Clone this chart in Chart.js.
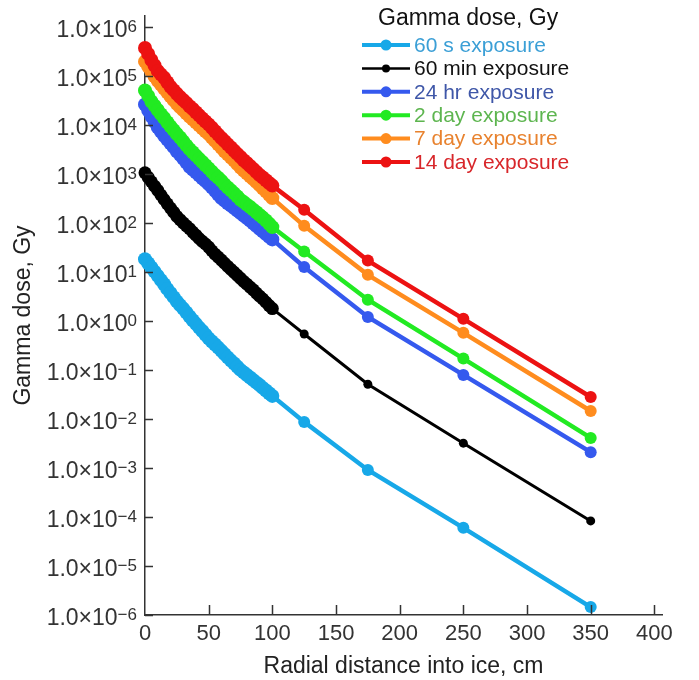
<!DOCTYPE html>
<html lang="en">
<head>
  <meta charset="utf-8" />
  <title>Gamma dose vs radial distance</title>
  <script src="https://cdn.jsdelivr.net/npm/chart.js@4.4.1/dist/chart.umd.min.js"></script>
  <style>
    html, body { margin: 0; padding: 0; background: #fff; }
    #wrap { width: 699px; height: 680px; }
  </style>
</head>
<body>
<div id="wrap">
  <canvas id="myChart" width="699" height="680"></canvas>
</div>

<script>
// Radial distance into ice (cm), shared by every series
const distances = [0, 2.5, 5, 7.5, 10, 12.5, 15, 17.5, 20, 22.5, 25, 27.5, 30, 32.5, 35, 37.5, 40, 42.5, 45, 47.5,
  50, 52.5, 55, 57.5, 60, 62.5, 65, 67.5, 70, 72.5, 75, 77.5, 80, 82.5, 85, 87.5, 90, 92.5, 95, 97.5, 100,
  125, 175, 250, 350];
const DENSE_COUNT = 41; // points from 0 to 100 cm

// Gamma dose (Gy)
const dose60s = [18.2, 15, 12.3, 10.1, 8.3, 6.8, 5.6, 4.5, 3.7, 3.05, 2.5, 2.1, 1.78, 1.48, 1.23, 1.03, 0.87, 0.73, 0.62, 0.52,
  0.44, 0.38, 0.33, 0.285, 0.245, 0.21, 0.18, 0.155, 0.135, 0.116, 0.10, 0.089, 0.079, 0.070, 0.062, 0.055, 0.049, 0.043, 0.038, 0.0335, 0.0295,
  0.0087, 9.1e-4, 6.0e-5, 1.45e-6];
const dose60min = [1050, 850, 690, 560, 460, 370, 300, 245, 200, 165, 135, 116, 100, 87, 76, 65, 56, 48, 42, 37,
  32, 27, 23, 20, 17.4, 15, 12.9, 11.2, 9.8, 8.5, 7.4, 6.4, 5.6, 4.9, 4.3, 3.7, 3.2, 2.8, 2.4, 2.05, 1.78,
  0.54, 0.051, 0.0032, 8.3e-5];
const dose24hr = [26000, 19800, 15000, 11500, 8900, 7300, 6000, 5000, 4200, 3500, 2900, 2450, 2050, 1700, 1400, 1220, 1070, 930, 810, 710,
  620, 530, 450, 380, 320, 285, 250, 225, 200, 178, 158, 141, 126, 111, 98, 86, 76, 67, 59, 52, 46,
  12.6, 1.2, 0.079, 0.0021];
const dose2day = [50000, 39000, 30000, 24500, 20000, 16500, 13800, 11300, 9300, 7800, 6500, 5500, 4600, 3800, 3200, 2750, 2350, 2020, 1740, 1500,
  1290, 1100, 950, 830, 720, 610, 525, 460, 400, 345, 295, 265, 235, 210, 186, 165, 145, 128, 112, 96, 82,
  26, 2.7, 0.17, 0.0041];
const dose7day = [195000, 155000, 123000, 98000, 79000, 66000, 55000, 46000, 38000, 32000, 27000, 23000, 20000, 17200, 14800, 12900, 11200, 9800, 8500, 7400,
  6500, 5500, 4700, 4000, 3400, 2900, 2500, 2150, 1860, 1580, 1350, 1170, 1020, 890, 780, 680, 590, 510, 440, 375, 320,
  87, 8.7, 0.57, 0.0145];
const dose14day = [370000, 280000, 210000, 162000, 126000, 107000, 91000, 74000, 60000, 51000, 43000, 37000, 32000, 28000, 24000, 21000, 18000, 15600, 13500, 11700,
  10200, 8700, 7400, 6300, 5400, 4650, 4000, 3450, 2950, 2550, 2200, 1900, 1660, 1450, 1260, 1090, 950, 840, 740, 650, 575,
  185, 17, 1.1, 0.028];

const seriesLabels = ['60 s exposure', '60 min exposure', '24 hr exposure', '2 day exposure', '7 day exposure', '14 day exposure'];
const seriesData = [dose60s, dose60min, dose24hr, dose2day, dose7day, dose14day];
const lineColors = ['#17a8e8', '#000000', '#3559ee', '#22ea22', '#ff8c1e', '#ec1212'];
const textColors = ['#3b9fd6', '#111111', '#3f57a8', '#5db54f', '#e8822e', '#d8262a'];

// Axis ticks
const xTicks = [0, 50, 100, 150, 200, 250, 300, 350, 400];
const yTickExps = [6, 5, 4, 3, 2, 1, 0, -1, -2, -3, -4, -5, -6];

const FONT = '"Liberation Sans", Arial, Helvetica, sans-serif';
const AXIS_COLOR = '#333333';

// tick marks pointing inward, superscript y labels, legend box
const extrasPlugin = {
  id: 'extras',
  afterDraw(chart) {
    const ctx = chart.ctx;
    const xs = chart.scales.x;
    const ys = chart.scales.y;
    const area = chart.chartArea;
    ctx.save();

    // inward tick marks
    ctx.strokeStyle = AXIS_COLOR;
    ctx.lineWidth = 1.5;
    ctx.beginPath();
    xTicks.forEach(v => {
      if (v === 0) return;
      const px = Math.round(xs.getPixelForValue(v)) + 0.5;
      ctx.moveTo(px, area.bottom);
      ctx.lineTo(px, area.bottom - 10);
    });
    yTickExps.forEach(e => {
      const py = Math.round(ys.getPixelForValue(Math.pow(10, e))) + 0.5;
      ctx.moveTo(area.left, py);
      ctx.lineTo(area.left + 8, py);
    });
    ctx.stroke();

    // y tick labels: 1.0x10^n
    ctx.fillStyle = AXIS_COLOR;
    ctx.textBaseline = 'alphabetic';
    const rightEdge = area.left - 8;
    yTickExps.forEach(e => {
      const py = ys.getPixelForValue(Math.pow(10, e));
      const expText = e < 0 ? '\u2212' + (-e) : String(e);
      ctx.font = '17px ' + FONT;
      const expW = ctx.measureText(expText).width;
      ctx.textAlign = 'left';
      ctx.fillText(expText, rightEdge - expW, py + 5);
      ctx.font = '23px ' + FONT;
      ctx.textAlign = 'right';
      ctx.fillText('1.0\u00d710', rightEdge - expW, py + 10);
    });

    // legend
    ctx.textAlign = 'left';
    ctx.fillStyle = '#111111';
    ctx.font = '23px ' + FONT;
    ctx.fillText('Gamma dose, Gy', 378, 25);

    ctx.font = '21px ' + FONT;
    ctx.textBaseline = 'middle';
    seriesLabels.forEach((label, i) => {
      const y = 45 + i * 23.4;
      const black = i === 1;
      ctx.strokeStyle = lineColors[i];
      ctx.lineWidth = black ? 2.5 : 4;
      ctx.beginPath();
      ctx.moveTo(362, y);
      ctx.lineTo(410, y);
      ctx.stroke();
      ctx.fillStyle = lineColors[i];
      ctx.beginPath();
      ctx.arc(386, y, black ? 4 : 5.5, 0, Math.PI * 2);
      ctx.fill();
      ctx.fillStyle = textColors[i];
      ctx.fillText(label, 414, y + 1);
    });

    ctx.restore();
  }
};

window.addEventListener('load', () => {
  const ctx = document.getElementById('myChart').getContext('2d');

  const datasets = seriesLabels.map((label, i) => {
    const black = i === 1;
    return {
      label: label,
      data: distances.map((d, j) => ({ x: d, y: seriesData[i][j] })),
      borderColor: lineColors[i],
      backgroundColor: lineColors[i],
      pointBackgroundColor: lineColors[i],
      pointBorderWidth: 0,
      pointRadius: c => c.dataIndex < DENSE_COUNT ? (black ? 6.5 : 7) : (black ? 4.5 : 6),
      borderWidth: black ? 3 : 4.5,
      tension: 0,
      fill: false,
      clip: false,
      order: seriesLabels.length - i
    };
  });

  new Chart(ctx, {
    type: 'line',
    data: { datasets: datasets },
    options: {
      responsive: false,
      animation: false,
      events: [],
      layout: { padding: { left: 10, top: 16, right: 37, bottom: 0 } },
      plugins: {
        legend: { display: false },
        tooltip: { enabled: false }
      },
      scales: {
        x: {
          type: 'linear',
          min: 0,
          max: 406,
          afterBuildTicks: s => { s.ticks = xTicks.map(v => ({ value: v })); },
          afterFit: s => { s.height = 65; },
          grid: { display: true, drawOnChartArea: false, drawTicks: false },
          border: { display: true, color: AXIS_COLOR, width: 1.5 },
          ticks: {
            color: AXIS_COLOR,
            padding: 6,
            maxRotation: 0,
            font: { family: FONT, size: 22 }
          },
          title: {
            display: true,
            text: 'Radial distance into ice, cm',
            color: '#222222',
            padding: 0,
            font: { family: FONT, size: 23 }
          }
        },
        y: {
          type: 'logarithmic',
          min: 1e-6,
          max: 1.66e6,
          afterFit: s => { s.width = 135; },
          grid: { display: true, drawOnChartArea: false, drawTicks: false },
          border: { display: true, color: AXIS_COLOR, width: 1.5 },
          ticks: { display: false },
          title: {
            display: true,
            text: 'Gamma dose, Gy',
            color: '#222222',
            padding: 0,
            font: { family: FONT, size: 23 }
          }
        }
      }
    },
    plugins: [extrasPlugin]
  });
});
</script>
</body>
</html>
